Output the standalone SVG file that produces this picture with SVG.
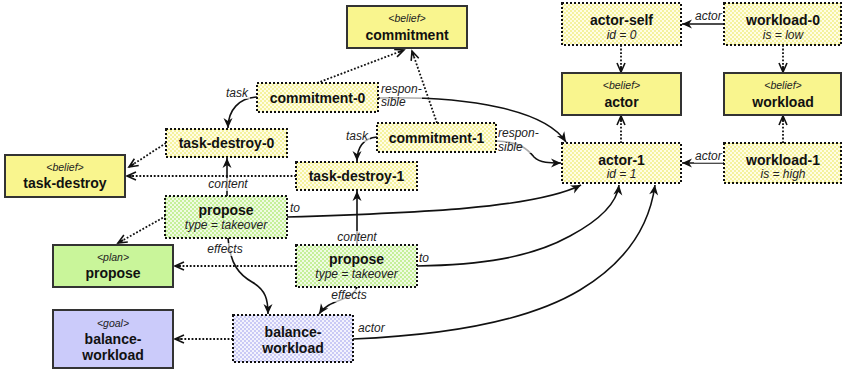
<svg xmlns="http://www.w3.org/2000/svg" width="842" height="370" viewBox="0 0 842 370">
<style>
text{font-family:"Liberation Sans",Arial,sans-serif;fill:#111}
.nm{font-size:14px;font-weight:bold;text-anchor:middle}
.st{font-size:10.5px;font-style:italic;text-anchor:middle;fill:#222}
.sub{font-size:12px;font-style:italic;text-anchor:middle;fill:#222}
.lb{font-size:12px;font-style:italic;fill:#222}
.lbm{font-size:12px;font-style:italic;fill:#222;text-anchor:middle}
.cls{stroke:#333;stroke-width:2}
.bel{fill:#f9f58e}
.pln{fill:#c9f59a}
.gol{fill:#cbcbfa}
.ins{stroke:#111;stroke-width:2;stroke-dasharray:2 2}
.iy{fill:url(#chkY)}
.ig{fill:url(#chkG)}
.ib{fill:url(#chkB)}
.sol{fill:none;stroke:#111;stroke-width:1.6;marker-end:url(#arr)}
.dot{fill:none;stroke:#111;stroke-width:1.8;stroke-dasharray:1.8 1.8;marker-end:url(#opn)}
.bg{fill:#fff;fill-opacity:0.65}
</style>
<defs>
<pattern id="chkY" width="4" height="4" patternUnits="userSpaceOnUse"><rect width="4" height="4" fill="#fffde6"/><rect width="2" height="2" fill="#f5f29e"/><rect x="2" y="2" width="2" height="2" fill="#f5f29e"/></pattern>
<pattern id="chkG" width="4" height="4" patternUnits="userSpaceOnUse"><rect width="4" height="4" fill="#f0fbe4"/><rect width="2" height="2" fill="#c6f09a"/><rect x="2" y="2" width="2" height="2" fill="#c6f09a"/></pattern>
<pattern id="chkB" width="4" height="4" patternUnits="userSpaceOnUse"><rect width="4" height="4" fill="#f3f3fd"/><rect width="2" height="2" fill="#cacaf5"/><rect x="2" y="2" width="2" height="2" fill="#cacaf5"/></pattern>
<marker id="arr" markerUnits="userSpaceOnUse" markerWidth="12" markerHeight="10" refX="10" refY="4.5" orient="auto" overflow="visible"><path d="M0,0 L10,4.5 L0,9 L3,4.5 Z" fill="#111"/></marker>
<marker id="opn" markerUnits="userSpaceOnUse" markerWidth="12" markerHeight="10" refX="10" refY="4.5" orient="auto" overflow="visible"><path d="M1,0.5 L10,4.5 L1,8.5 M4,4.5 L10,4.5" fill="none" stroke="#111" stroke-width="1.6"/></marker>
</defs>
<rect width="842" height="370" fill="#fff"/>

<g id="connectors">
<path class="dot" d="M317,83 L404,50"/>
<path class="dot" d="M437,123 L412,51"/>
<path class="sol" d="M257,97 C239,98 228,110 228,128"/>
<path class="sol" d="M377,137 C363,138 357,148 357,161"/>
<path class="sol" d="M378,98 C470,96 545,110 566,142"/>
<path class="sol" d="M496,141 C522,142 528,150 534,157 C540,163 550,163 561,163"/>
<path class="dot" d="M166,143 L129,167"/>
<path class="dot" d="M296,176 L127,176"/>
<path class="sol" d="M227,196 L227,158"/>
<path class="sol" d="M357,245 L357,191"/>
<path class="dot" d="M166,216 L118,243"/>
<path class="dot" d="M296,266 L175,266"/>
<path class="sol" d="M287,217 C420,213 535,208 581,185"/>
<path class="sol" d="M417,266 C480,265 530,258 570,236 C600,220 617,202 619,185"/>
<path class="sol" d="M353,339 C450,335 530,320 580,290 C630,260 650,222 655,185"/>
<path class="sol" d="M228,238 C230,265 240,275 252,282 C266,290 268,300 268,314"/>
<path class="sol" d="M357,287 C352,302 330,298 319,314"/>
<path class="dot" d="M233,339 L175,339"/>
<path class="dot" d="M621,45 L621,72"/>
<path class="dot" d="M783,45 L783,72"/>
<path class="dot" d="M621,143 L621,116"/>
<path class="dot" d="M783,143 L783,116"/>
<path class="sol" d="M724,24 L682,24"/>
<path class="sol" d="M724,163 L682,163"/>

<rect class="bg" x="226" y="86" width="24" height="13"/>
<text class="lb" x="226" y="97">task</text>
<rect class="bg" x="346" y="129" width="24" height="13"/>
<text class="lb" x="346" y="140">task</text>
<rect class="bg" x="380" y="82" width="42" height="27"/>
<text class="lb" x="381" y="93">respon-</text>
<text class="lb" x="381" y="106">sible</text>
<rect class="bg" x="497" y="125" width="42" height="28"/>
<text class="lb" x="498" y="137">respon-</text>
<text class="lb" x="498" y="151">sible</text>
<rect class="bg" x="208" y="178" width="40" height="13"/>
<text class="lbm" x="228" y="188">content</text>
<rect class="bg" x="337" y="231" width="40" height="13"/>
<text class="lbm" x="357" y="241">content</text>
<text class="lb" x="290" y="212">to</text>
<text class="lb" x="419" y="262">to</text>
<rect class="bg" x="206" y="243" width="38" height="13"/>
<text class="lbm" x="225" y="253">effects</text>
<rect class="bg" x="330" y="289" width="38" height="13"/>
<text class="lbm" x="349" y="299">effects</text>
<text class="lb" x="358" y="332">actor</text>
<rect class="bg" x="694" y="10" width="29" height="13"/>
<text class="lb" x="695" y="20">actor</text>
<rect class="bg" x="694" y="150" width="29" height="13"/>
<text class="lb" x="695" y="160">actor</text>
</g>

<g id="commitment"><rect class="cls bel" x="347" y="6" width="120" height="42"/><text class="st" x="407" y="22">&lt;belief&gt;</text><text class="nm" x="407" y="40">commitment</text></g>
<g id="task-destroy"><rect class="cls bel" x="5" y="155" width="120" height="42"/><text class="st" x="65" y="171">&lt;belief&gt;</text><text class="nm" x="65" y="188">task-destroy</text></g>
<g id="plan-propose"><rect class="cls pln" x="53" y="245" width="120" height="42"/><text class="st" x="113" y="261">&lt;plan&gt;</text><text class="nm" x="113" y="278">propose</text></g>
<g id="goal-balance-workload"><rect class="cls gol" x="53" y="310" width="120" height="58"/><text class="st" x="113" y="327">&lt;goal&gt;</text><text class="nm" x="113" y="344">balance-</text><text class="nm" x="113" y="360">workload</text></g>
<g id="actor"><rect class="cls bel" x="562" y="73" width="119" height="42"/><text class="st" x="621.5" y="89">&lt;belief&gt;</text><text class="nm" x="621.5" y="107">actor</text></g>
<g id="workload"><rect class="cls bel" x="724" y="73" width="117" height="42"/><text class="st" x="783" y="89">&lt;belief&gt;</text><text class="nm" x="783" y="107">workload</text></g>

<g id="actor-self"><rect class="ins iy" x="562" y="3" width="119" height="42"/><text class="nm" x="621.5" y="25">actor-self</text><text class="sub" x="621.5" y="39">id = 0</text></g>
<g id="workload-0"><rect class="ins iy" x="724" y="3" width="117" height="42"/><text class="nm" x="783" y="25">workload-0</text><text class="sub" x="783" y="39">is = low</text></g>
<g id="actor-1"><rect class="ins iy" x="562" y="143" width="119" height="40"/><text class="nm" x="621.5" y="165">actor-1</text><text class="sub" x="621.5" y="178">id = 1</text></g>
<g id="workload-1"><rect class="ins iy" x="724" y="143" width="117" height="40"/><text class="nm" x="783" y="165">workload-1</text><text class="sub" x="783" y="178">is = high</text></g>
<g id="commitment-0"><rect class="ins iy" x="257" y="83" width="121" height="29"/><text class="nm" x="317.5" y="103">commitment-0</text></g>
<g id="commitment-1"><rect class="ins iy" x="377" y="123" width="119" height="29"/><text class="nm" x="436.5" y="143">commitment-1</text></g>
<g id="task-destroy-0"><rect class="ins iy" x="166" y="129" width="121" height="28"/><text class="nm" x="226.5" y="148">task-destroy-0</text></g>
<g id="task-destroy-1"><rect class="ins iy" x="296" y="162" width="121" height="28"/><text class="nm" x="356.5" y="181">task-destroy-1</text></g>
<g id="propose-0"><rect class="ins ig" x="165" y="196" width="122" height="42"/><text class="nm" x="226" y="215">propose</text><text class="sub" x="226" y="229">type = takeover</text></g>
<g id="propose-1"><rect class="ins ig" x="296" y="245" width="121" height="42"/><text class="nm" x="356.5" y="264">propose</text><text class="sub" x="356.5" y="278">type = takeover</text></g>
<g id="balance-workload"><rect class="ins ib" x="233" y="315" width="120" height="47"/><text class="nm" x="293" y="337">balance-</text><text class="nm" x="293" y="353">workload</text></g>
</svg>
